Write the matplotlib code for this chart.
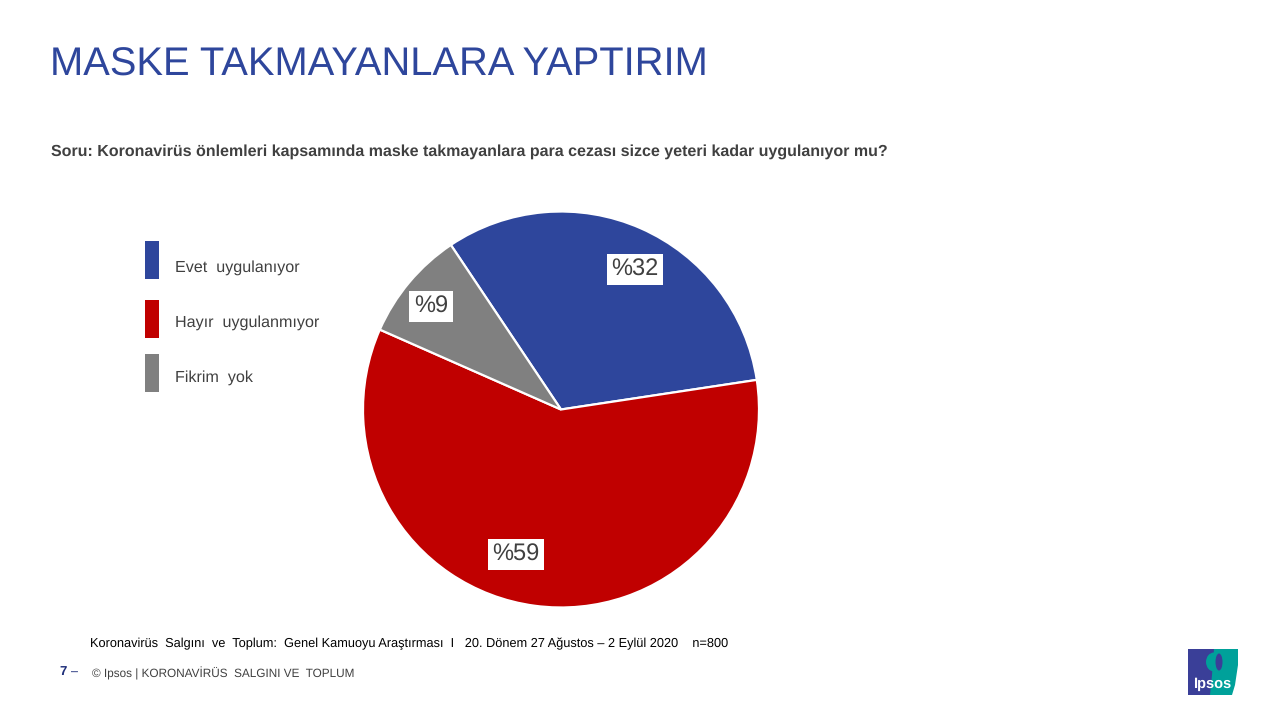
import matplotlib
matplotlib.use('Agg')
import matplotlib.pyplot as plt
from matplotlib.patches import Rectangle, Polygon, Ellipse

plt.rcParams['font.family'] = ['Liberation Sans', 'DejaVu Sans']
plt.rcParams['text.hinting'] = 'no_hinting'

title = "MASKE TAKMAYANLARA YAPTIRIM"
question = "Soru: Koronavirüs önlemleri kapsamında maske takmayanlara para cezası sizce yeteri kadar uygulanıyor mu?"
categories = ["Evet  uygulanıyor", "Hayır  uygulanmıyor", "Fikrim  yok"]
values = [32, 59, 9]
value_labels = ["%32", "%59", "%9"]
colors = ["#2E469C", "#C00000", "#808080"]
source = "Koronavirüs  Salgını  ve  Toplum:  Genel Kamuoyu Araştırması  I   20. Dönem 27 Ağustos – 2 Eylül 2020    n=800"
footer = "© Ipsos | KORONAVİRÜS  SALGINI VE  TOPLUM"

fig = plt.figure(figsize=(12.8, 7.2), dpi=100, facecolor='white')

# overlay in pixel coords for all the slide text
bg = fig.add_axes([0, 0, 1, 1])
bg.set_xlim(0, 1280)
bg.set_ylim(720, 0)
bg.axis('off')

# pie, center 561,409.5 radius 198
cx, cy, r = 561, 409.5, 198
ax = fig.add_axes([(cx - r) / 1280, 1 - (cy + r) / 720, 2 * r / 1280, 2 * r / 720])
wedges, _ = ax.pie(values, colors=colors, startangle=123.8, counterclock=False, radius=1,
                   wedgeprops={'edgecolor': 'white', 'linewidth': 1.6})
ax.set_xlim(-1, 1)
ax.set_ylim(-1, 1)

# data labels, white boxes
label_pos = [(635, 269.5), (516, 554.5), (431, 306.5)]
for (x, y), t in zip(label_pos, value_labels):
    bg.text(x, y, t, ha='center', va='center', fontsize=17, color='#404040', zorder=10,
            bbox=dict(facecolor='white', edgecolor='none', pad=3.2))
bg.set_zorder(5)
bg.patch.set_alpha(0)

bg.text(50, 65, title, fontsize=28.7, color='#2E469C', ha='left', va='center')
bg.text(51, 152, question, fontsize=11.5, color='#404040', fontweight='bold', ha='left', va='center')

# legend
legend_y = [260, 319, 373]
legend_text_y = [268, 323, 378]
for y, ty, c, t in zip(legend_y, legend_text_y, colors, categories):
    bg.add_patch(Rectangle((145, y - 19), 14, 38, facecolor=c, edgecolor='none'))
    bg.text(175, ty, t, fontsize=11.6, color='#404040', ha='left', va='center')

bg.text(90, 644, source, fontsize=9.2, color='black', ha='left', va='center')
bg.text(59, 672, "7", fontsize=9.5, color='#1F2F7A', fontweight='bold', ha='left', va='center')
bg.text(71, 672, "–", fontsize=9, color='#1F2F7A', ha='left', va='center')
bg.text(92, 673, footer, fontsize=8.5, color='#404040', ha='left', va='center')

# logo
bg.add_patch(Polygon([(1213, 649), (1238, 649), (1238, 665), (1235, 685), (1232, 695), (1209, 695)],
                     facecolor='#00A19A', edgecolor='none'))
bg.add_patch(Polygon([(1188, 649), (1214, 649), (1212, 675), (1210, 695), (1188, 695)],
                     facecolor='#3A3F98', edgecolor='none'))
bg.add_patch(Ellipse((1214, 662), 16, 19, facecolor='#00A19A', edgecolor='none'))
bg.add_patch(Ellipse((1219, 662), 7, 17, facecolor='#3A3F98', edgecolor='none'))
bg.text(1212, 684, "Ipsos", fontsize=10.5, color='white', fontweight='bold', ha='center', va='center')

fig.savefig('out.png', dpi=100)
